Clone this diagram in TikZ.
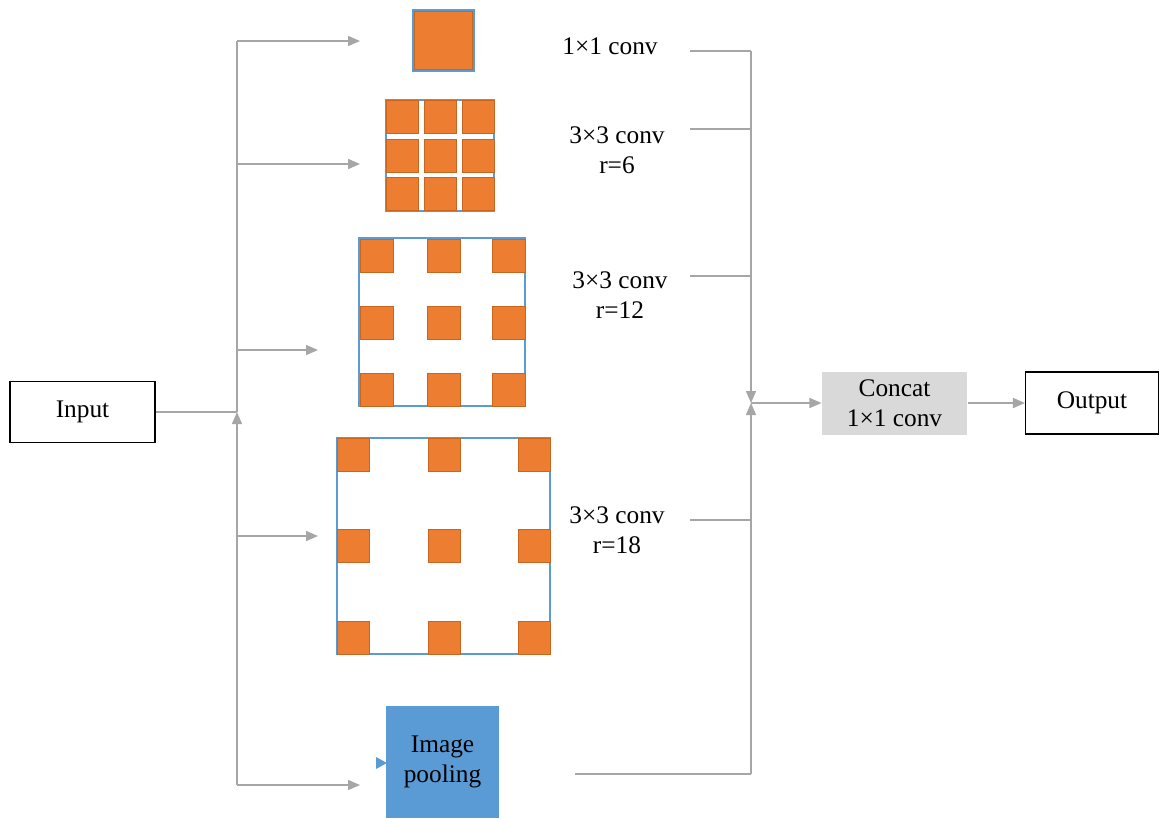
\documentclass[tikz,border=0pt]{standalone}
\usepackage{fontspec}
\setmainfont{Liberation Serif}
\usetikzlibrary{arrows.meta}
\definecolor{org}{HTML}{ED7D31}
\definecolor{orgd}{HTML}{C8651F}
\definecolor{blu}{HTML}{5B9BD5}
\definecolor{lgray}{HTML}{A6A6A6}
\definecolor{cgray}{HTML}{D9D9D9}
\newcommand{\pxu}{0.75pt}
\begin{document}
\begin{tikzpicture}[x=0.75pt,y=-0.75pt,
  conn/.style={draw=lgray,line width=1.1pt},
  arr/.style={conn,-{Triangle[length=9pt,width=7.5pt]}},
  box/.style={draw,line width=0.8pt,align=center,font=\fontsize{19}{22.5}\selectfont,inner sep=0pt},
  lbl/.style={align=center,font=\fontsize{19}{22.5}\selectfont,inner sep=0pt},
  cell/.style={fill=org,draw=orgd,line width=0.7pt},
  frame/.style={draw=blu,fill=white,line width=0.9pt}]
\useasboundingbox (0,0) rectangle (1160,818);
\fill[white] (0,0) rectangle (1160,818);

% boxes
\node[box, minimum width=145*\pxu, minimum height=61*\pxu] (input) at (82.5,412) {Input};
\node[box, draw=none, fill=cgray, minimum width=145*\pxu, minimum height=63*\pxu] (concat) at (894.5,403) {Concat\\1×1 conv};
\node[box, minimum width=133*\pxu, minimum height=62*\pxu] (output) at (1092,403) {Output};
\node[box, draw=none, fill=blu, minimum width=113*\pxu, minimum height=112*\pxu] (pool) at (442.5,762) {Image\\pooling};
\fill[blu] (376,757) -- (387,763) -- (376,769) -- cycle;

% 1x1 block
\draw[draw=blu,line width=1.1pt] (413,10) rectangle (474,71);
\draw[cell,line width=1pt] (414.5,11.5) rectangle (472.5,69.5);

% 3x3 r=6
\draw[frame] (386,100) rectangle (494,211);
\foreach \x in {386,424,462} \foreach \y in {100,139,177}
  \draw[cell] (\x,\y) rectangle ++(32,33);

% 3x3 r=12
\draw[frame] (359,238) rectangle (525,406);
\foreach \x in {360,427,492} \foreach \y in {239,306,373}
  \draw[cell] (\x,\y) rectangle ++(33,33);

% 3x3 r=18
\draw[frame] (337,438) rectangle (550,654);
\foreach \x in {337,428,518} \foreach \y in {438,529,621}
  \draw[cell] (\x,\y) rectangle ++(32,33);

% labels
\node[lbl] (l1) at (610,46) {1×1 conv};
\node[lbl] (l6) at (617,150) {3×3 conv\\r=6};
\node[lbl] (l12) at (620,295) {3×3 conv\\r=12};
\node[lbl] (l18) at (617,530) {3×3 conv\\r=18};

% left trunk
\coordinate (jin) at (237,412);
\coordinate (ttop) at (237,41);
\coordinate (tb2) at (237,164);
\coordinate (tb3) at (237,350);
\coordinate (tb4) at (237,536);
\coordinate (tbot) at (237,785);
\coordinate (b1) at (360,41);
\coordinate (b2) at (360,164);
\coordinate (b3) at (318,350);
\coordinate (b4) at (318,536);
\coordinate (b5) at (360,785);
\draw[conn] (input.east) -- (jin);
\draw[arr] (tbot) -- (jin);
\draw[conn] (jin) -- (ttop);
\draw[arr] (ttop) -- (b1);
\draw[arr] (tb2) -- (b2);
\draw[arr] (tb3) -- (b3);
\draw[arr] (tb4) -- (b4);
\draw[arr] (tbot) -- (b5);

% right trunk
\coordinate (r1) at (690,51);
\coordinate (r2) at (690,129);
\coordinate (r3) at (690,276);
\coordinate (r4) at (690,520);
\coordinate (r5) at (575,774);
\coordinate (t1) at (751,51);
\coordinate (t2) at (751,129);
\coordinate (t3) at (751,276);
\coordinate (t4) at (751,520);
\coordinate (t5) at (751,774);
\coordinate (jr) at (751,403);
\draw[conn] (r1) -- (t1);
\draw[conn] (r2) -- (t2);
\draw[conn] (r3) -- (t3);
\draw[conn] (r4) -- (t4);
\draw[conn] (r5) -- (t5);
\draw[arr] (t1) -- (jr);
\draw[arr] (t5) -- (jr);
\draw[arr] (jr) -- (concat.west);
\draw[arr] (concat.east) -- (output.west);
\end{tikzpicture}
\end{document}
